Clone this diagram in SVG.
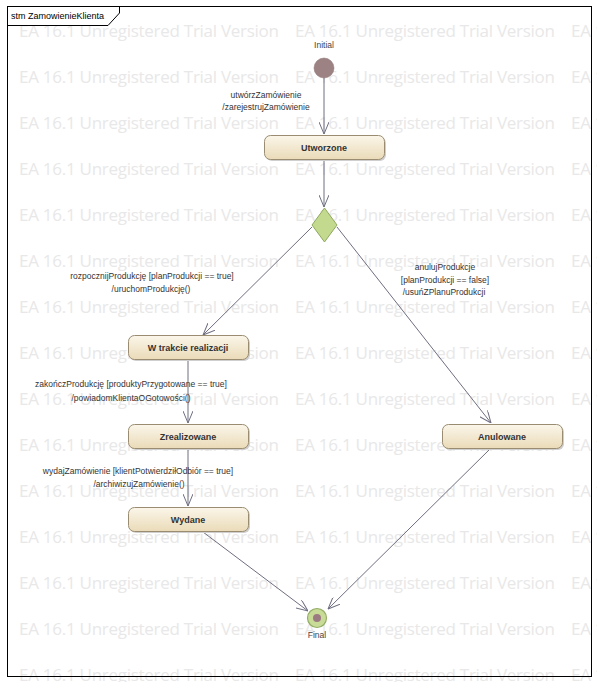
<svg xmlns="http://www.w3.org/2000/svg" width="597" height="682" viewBox="0 0 597 682">
<defs>
<style>
.wm{font-family:"Open Sans","Liberation Sans",Arial,sans-serif;font-size:17px;fill:#e8e8e8}
.lbl{font-family:"Liberation Sans",Arial,sans-serif;font-size:8.5px;fill:#333;text-anchor:middle}
.nm{font-family:"Liberation Sans",Arial,sans-serif;font-size:8.5px;fill:#444;text-anchor:middle}
.st text{font-family:"Liberation Sans",Arial,sans-serif;font-size:9px;font-weight:bold;fill:#333;text-anchor:middle}
.box{fill:url(#g);stroke:#9a8c70;stroke-width:1}
.sh{fill:#cfcfcf}
.edge{stroke:#6e6e80;stroke-width:1;fill:none;marker-end:url(#arr)}
</style>
<linearGradient id="g" x1="0" y1="0" x2="0" y2="1">
<stop offset="0" stop-color="#fbf6ea"/>
<stop offset="1" stop-color="#eadbb8"/>
</linearGradient>
<marker id="arr" viewBox="0 0 12 10" refX="12" refY="5" markerWidth="12" markerHeight="10" markerUnits="userSpaceOnUse" orient="auto">
<path d="M0,0 L12,5 L0,10" fill="none" stroke="#6e6e80" stroke-width="1"/>
</marker>
</defs>
<rect width="597" height="682" fill="#fff"/>
<g id="watermark">
<text class="wm" x="19" y="37" textLength="260">EA 16.1 Unregistered Trial Version</text><text class="wm" x="295" y="37" textLength="260">EA 16.1 Unregistered Trial Version</text><text class="wm" x="571" y="37" textLength="260">EA 16.1 Unregistered Trial Version</text>
<text class="wm" x="19" y="83" textLength="260">EA 16.1 Unregistered Trial Version</text><text class="wm" x="295" y="83" textLength="260">EA 16.1 Unregistered Trial Version</text><text class="wm" x="571" y="83" textLength="260">EA 16.1 Unregistered Trial Version</text>
<text class="wm" x="19" y="129" textLength="260">EA 16.1 Unregistered Trial Version</text><text class="wm" x="295" y="129" textLength="260">EA 16.1 Unregistered Trial Version</text><text class="wm" x="571" y="129" textLength="260">EA 16.1 Unregistered Trial Version</text>
<text class="wm" x="19" y="175" textLength="260">EA 16.1 Unregistered Trial Version</text><text class="wm" x="295" y="175" textLength="260">EA 16.1 Unregistered Trial Version</text><text class="wm" x="571" y="175" textLength="260">EA 16.1 Unregistered Trial Version</text>
<text class="wm" x="19" y="221" textLength="260">EA 16.1 Unregistered Trial Version</text><text class="wm" x="295" y="221" textLength="260">EA 16.1 Unregistered Trial Version</text><text class="wm" x="571" y="221" textLength="260">EA 16.1 Unregistered Trial Version</text>
<text class="wm" x="19" y="267" textLength="260">EA 16.1 Unregistered Trial Version</text><text class="wm" x="295" y="267" textLength="260">EA 16.1 Unregistered Trial Version</text><text class="wm" x="571" y="267" textLength="260">EA 16.1 Unregistered Trial Version</text>
<text class="wm" x="19" y="313" textLength="260">EA 16.1 Unregistered Trial Version</text><text class="wm" x="295" y="313" textLength="260">EA 16.1 Unregistered Trial Version</text><text class="wm" x="571" y="313" textLength="260">EA 16.1 Unregistered Trial Version</text>
<text class="wm" x="19" y="359" textLength="260">EA 16.1 Unregistered Trial Version</text><text class="wm" x="295" y="359" textLength="260">EA 16.1 Unregistered Trial Version</text><text class="wm" x="571" y="359" textLength="260">EA 16.1 Unregistered Trial Version</text>
<text class="wm" x="19" y="405" textLength="260">EA 16.1 Unregistered Trial Version</text><text class="wm" x="295" y="405" textLength="260">EA 16.1 Unregistered Trial Version</text><text class="wm" x="571" y="405" textLength="260">EA 16.1 Unregistered Trial Version</text>
<text class="wm" x="19" y="451" textLength="260">EA 16.1 Unregistered Trial Version</text><text class="wm" x="295" y="451" textLength="260">EA 16.1 Unregistered Trial Version</text><text class="wm" x="571" y="451" textLength="260">EA 16.1 Unregistered Trial Version</text>
<text class="wm" x="19" y="497" textLength="260">EA 16.1 Unregistered Trial Version</text><text class="wm" x="295" y="497" textLength="260">EA 16.1 Unregistered Trial Version</text><text class="wm" x="571" y="497" textLength="260">EA 16.1 Unregistered Trial Version</text>
<text class="wm" x="19" y="543" textLength="260">EA 16.1 Unregistered Trial Version</text><text class="wm" x="295" y="543" textLength="260">EA 16.1 Unregistered Trial Version</text><text class="wm" x="571" y="543" textLength="260">EA 16.1 Unregistered Trial Version</text>
<text class="wm" x="19" y="589" textLength="260">EA 16.1 Unregistered Trial Version</text><text class="wm" x="295" y="589" textLength="260">EA 16.1 Unregistered Trial Version</text><text class="wm" x="571" y="589" textLength="260">EA 16.1 Unregistered Trial Version</text>
<text class="wm" x="19" y="635" textLength="260">EA 16.1 Unregistered Trial Version</text><text class="wm" x="295" y="635" textLength="260">EA 16.1 Unregistered Trial Version</text><text class="wm" x="571" y="635" textLength="260">EA 16.1 Unregistered Trial Version</text>
<text class="wm" x="19" y="681" textLength="260">EA 16.1 Unregistered Trial Version</text><text class="wm" x="295" y="681" textLength="260">EA 16.1 Unregistered Trial Version</text><text class="wm" x="571" y="681" textLength="260">EA 16.1 Unregistered Trial Version</text>
</g>
<g id="frame">
<rect x="7.5" y="6.5" width="584" height="670" fill="none" stroke="#000" stroke-width="1"/>
<path d="M7.5,25.5 H108 L119.5,13 V6.5" fill="none" stroke="#000" stroke-width="1"/>
<text x="11" y="19" font-family="Liberation Sans, Arial, sans-serif" font-size="9" fill="#000">stm ZamowienieKlienta</text>
</g>
<g id="connectors">
<line class="edge" x1="324" y1="78" x2="324" y2="134"/>
<line class="edge" x1="324" y1="159" x2="324" y2="207"/>
<line class="edge" x1="312" y1="227" x2="203" y2="335"/>
<line class="edge" x1="337" y1="227" x2="491" y2="423"/>
<line class="edge" x1="188" y1="359" x2="188" y2="423"/>
<line class="edge" x1="188" y1="448" x2="188" y2="506"/>
<line class="edge" x1="203" y1="532" x2="308" y2="611"/>
<line class="edge" x1="491" y1="448" x2="328" y2="609"/>
<text class="lbl" x="266" y="98">utwórzZamówienie</text>
<text class="lbl" x="266" y="110">/zarejestrujZamówienie</text>
<text class="lbl" x="152" y="279">rozpocznijProdukcję [planProdukcji == true]</text>
<text class="lbl" x="151" y="292">/uruchomProdukcję()</text>
<text class="lbl" x="445" y="270">anulujProdukcje</text>
<text class="lbl" x="445" y="283">[planProdukcji == false]</text>
<text class="lbl" x="444" y="295">/usuńZPlanuProdukcji</text>
<text class="lbl" x="131" y="387">zakończProdukcję [produktyPrzygotowane == true]</text>
<text class="lbl" x="131" y="401">/powiadomKlientaOGotowości()</text>
<text class="lbl" x="138" y="474">wydajZamówienie [klientPotwierdziłOdbiór == true]</text>
<text class="lbl" x="139" y="487">/archiwizujZamówienie()</text>
</g>
<g id="initial">
<text class="nm" x="324" y="48">Initial</text>
<circle cx="324" cy="68" r="10" fill="#9c8282" stroke="#8a7070" stroke-width="0.5"/>
</g>
<g id="utworzone" class="st">
<rect class="sh" x="266" y="137" width="120" height="24" rx="6"/>
<rect class="box" x="264.5" y="135.5" width="120" height="24" rx="6"/>
<text x="324" y="151">Utworzone</text>
</g>
<g id="decision">
<polygon points="324.5,208 337,225 324.5,242 312,225" fill="#c3d98e" stroke="#8fa860" stroke-width="1"/>
</g>
<g id="wtrakcie" class="st">
<rect class="sh" x="130" y="337" width="120" height="24" rx="6"/>
<rect class="box" x="128.5" y="335.5" width="120" height="24" rx="6"/>
<text x="188" y="351">W trakcie realizacji</text>
</g>
<g id="zrealizowane" class="st">
<rect class="sh" x="130" y="426" width="120" height="24" rx="6"/>
<rect class="box" x="128.5" y="424.5" width="120" height="24" rx="6"/>
<text x="188" y="440">Zrealizowane</text>
</g>
<g id="wydane" class="st">
<rect class="sh" x="130" y="509" width="120" height="24" rx="6"/>
<rect class="box" x="128.5" y="507.5" width="120" height="24" rx="6"/>
<text x="188" y="523">Wydane</text>
</g>
<g id="anulowane" class="st">
<rect class="sh" x="444" y="426" width="120" height="24" rx="6"/>
<rect class="box" x="442.5" y="424.5" width="120" height="24" rx="6"/>
<text x="502" y="440">Anulowane</text>
</g>
<g id="final">
<circle cx="317" cy="618" r="9.5" fill="#c8dc98" stroke="#93ad66" stroke-width="1.2"/>
<circle cx="317" cy="618" r="4" fill="#9c7a82"/>
<text class="nm" x="317" y="638">Final</text>
</g>
</svg>
